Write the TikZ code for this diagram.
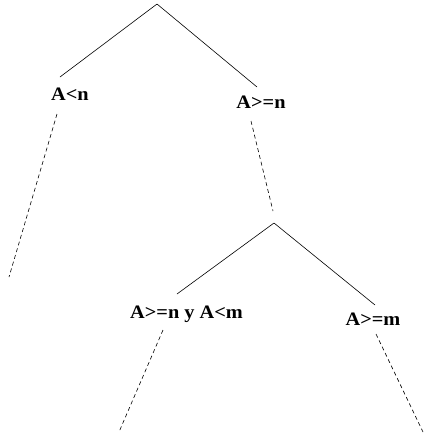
\documentclass[tikz,border=0pt]{standalone}
\usepackage{fontspec}
\setmainfont{Liberation Serif}
\tikzset{
  etiq/.style={anchor=base,inner sep=0pt,font=\bfseries\fontsize{19}{22}\selectfont},
  rama/.style={line width=0.6pt},
  punteada/.style={line width=0.6pt,dash pattern=on 4pt off 3pt}
}
\newcommand{\ancho}[1]{\scalebox{1.07}[1]{#1}}

\begin{document}
\begin{tikzpicture}[x=1pt,y=-1pt]
            \useasboundingbox (0,0) rectangle (424,437);
            \coordinate (raiz) at(157,4);
            \coordinate (raiz2) at(274,223);
            \node [etiq] (an) at(70,100) {\ancho{A<n}};
            \node [etiq] (bn) at(261,108.5) {\ancho{A>=n}};
            \node [etiq] (bnam) at(186.5,318.5) {\ancho{A>=n y A<m}};
            \node [etiq] (bm) at(373,325) {\ancho{A>=m}};
            \coordinate (fin1) at(9,277);
            \coordinate (fin2) at(119,432);
            \coordinate (fin3) at(423,432);
            \draw [rama] (raiz)--([shift={(-10,-23)}]an.base);
            \draw [rama] (raiz)--([shift={(-4,-21.5)}]bn.base);
            \draw [punteada] ([shift={(-13,14)}]an.base)--(fin1);
            \draw [punteada] ([shift={(-10,12.5)}]bn.base)--([shift={(-1,-12)}]raiz2);
            \draw [rama] (raiz2)--([shift={(-9.5,-24.5)}]bnam.base);
            \draw [rama] (raiz2)--([shift={(2,-20)}]bm.base);
            \draw [punteada] ([shift={(-23.5,11.5)}]bnam.base)--(fin2);
            \draw [punteada] ([shift={(3,9)}]bm.base)--(fin3);
        \end{tikzpicture}
\end{document}
